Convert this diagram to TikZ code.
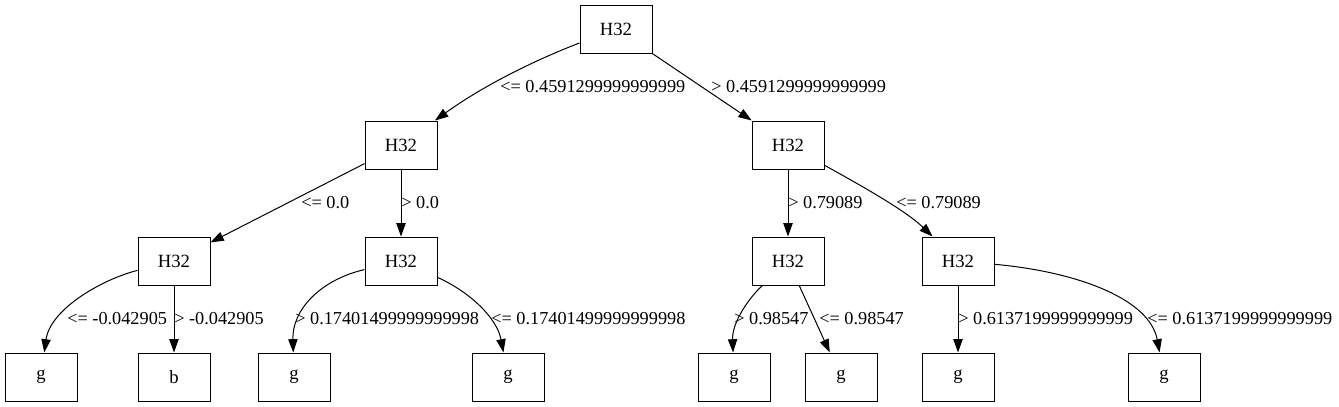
\documentclass[tikz,border=0pt]{standalone}
\usepackage{fontspec}
\setmainfont{Liberation Serif}
\usetikzlibrary{arrows.meta}
\begin{document}
\begin{tikzpicture}[x=0.75pt,y=-0.75pt,
  treenode/.style={draw,line width=0.75pt,minimum width=54pt,minimum height=36pt,inner sep=0pt,font=\fontsize{14pt}{16pt}\selectfont},
  edgelbl/.style={anchor=west,inner sep=0pt,font=\fontsize{13.7pt}{16pt}\selectfont},
  edge/.style={line width=0.75pt,-{Triangle[length=10pt,width=7pt]}}]
\useasboundingbox (0,0) rectangle (1339,407);
% nodes
\node[treenode] (r) at (616,29) {H32};
\node[treenode] (a) at (401,145) {H32};
\node[treenode] (b) at (788,145) {H32};
\node[treenode] (c) at (174,261) {H32};
\node[treenode] (d) at (401,261) {H32};
\node[treenode] (e) at (788,261) {H32};
\node[treenode] (f) at (958,261) {H32};
\node[treenode] (g1) at (41,377) {g};
\node[treenode] (g2) at (174,377) {b};
\node[treenode] (g3) at (294,377) {g};
\node[treenode] (g4) at (508,377) {g};
\node[treenode] (g5) at (734,377) {g};
\node[treenode] (g6) at (841,377) {g};
\node[treenode] (g7) at (958,377) {g};
\node[treenode] (g8) at (1164,377) {g};
% edges
\draw[edge] (r) .. controls (530,62) and (480,88) .. (a);
\draw[edge] (r) -- (b);
\draw[edge] (a) -- (c);
\draw[edge] (a) -- (d);
\draw[edge] (b) -- (e);
\draw[edge] (b) .. controls (860,185) and (905,210) .. (f);
\draw[edge] (c) .. controls (100,280) and (50,310) .. (g1);
\draw[edge] (c) -- (g2);
\draw[edge] (d) .. controls (320,280) and (292,310) .. (g3);
\draw[edge] (d) .. controls (470,292) and (497,318) .. (g4);
\draw[edge] (e) .. controls (745,302) and (732,325) .. (g5);
\draw[edge] (e) -- (g6);
\draw[edge] (f) -- (g7);
\draw[edge] (f) .. controls (1080,272) and (1150,300) .. (g8);
% labels
\node[edgelbl] (l1) at (500,87) {<= 0.4591299999999999};
\node[edgelbl] (l2) at (711,87) {> 0.4591299999999999};
\node[edgelbl] (l3) at (301,203) {<= 0.0};
\node[edgelbl] (l4) at (401,203) {> 0.0};
\node[edgelbl] (l5) at (788,203) {> 0.79089};
\node[edgelbl] (l6) at (896,203) {<= 0.79089};
\node[edgelbl] (l7) at (67,319) {<= -0.042905};
\node[edgelbl] (l8) at (174,319) {> -0.042905};
\node[edgelbl] (l9) at (295,319) {> 0.17401499999999998};
\node[edgelbl] (l10) at (491,319) {<= 0.17401499999999998};
\node[edgelbl] (l11) at (734,319) {> 0.98547};
\node[edgelbl] (l12) at (819,319) {<= 0.98547};
\node[edgelbl] (l13) at (958,319) {> 0.6137199999999999};
\node[edgelbl] (l14) at (1147,319) {<= 0.6137199999999999};
\end{tikzpicture}
\end{document}
